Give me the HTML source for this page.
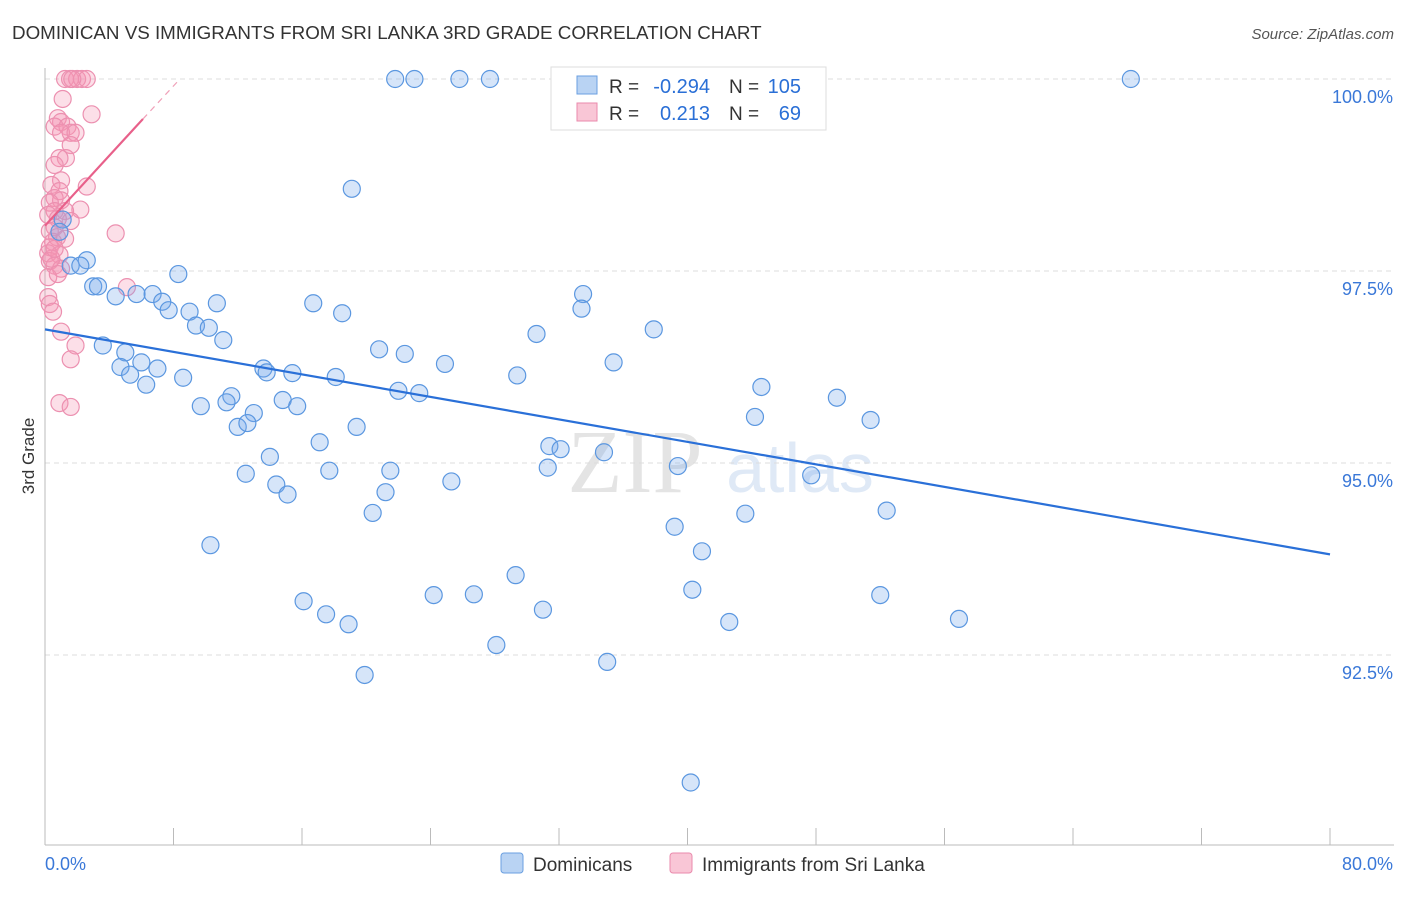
<!DOCTYPE html>
<html><head><meta charset="utf-8"><style>
body{margin:0;background:#fff;font-family:"Liberation Sans",sans-serif}
</style></head><body>
<svg id="chart" width="1406" height="892" xmlns="http://www.w3.org/2000/svg" font-family="Liberation Sans, sans-serif">
<text x="12" y="39" font-size="18.8" fill="#333">DOMINICAN VS IMMIGRANTS FROM SRI LANKA 3RD GRADE CORRELATION CHART</text>
<text x="1394" y="39" font-size="15" fill="#555" text-anchor="end" font-style="italic">Source: ZipAtlas.com</text>
<text x="34" y="456" font-size="17" fill="#333" text-anchor="middle" transform="rotate(-90 34 456)">3rd Grade</text>
<text x="635" y="492" font-size="90" fill="#e4e4e4" font-family="Liberation Serif, serif" text-anchor="middle">ZIP</text>
<text x="800" y="492" font-size="70" fill="#dfe9f6" text-anchor="middle">atlas</text>
<g id="grid"></g><g id="axes"></g><g id="pts"></g><g id="lines"></g>
<g>
<rect x="551" y="67" width="275" height="63" fill="#fff" stroke="#ddd"/>
<rect x="577" y="76" width="20" height="18" fill="#b9d3f3" stroke="#6a9fe0"/>
<rect x="577" y="103" width="20" height="18" fill="#f9c6d6" stroke="#ea8aac"/>
<text x="609" y="93" font-size="19" fill="#333">R =</text>
<text x="710" y="93" font-size="20" fill="#2a6fd6" text-anchor="end">-0.294</text>
<text x="729" y="93" font-size="19" fill="#333">N =</text>
<text x="801" y="93" font-size="20" fill="#2a6fd6" text-anchor="end">105</text>
<text x="609" y="120" font-size="19" fill="#333">R =</text>
<text x="710" y="120" font-size="20" fill="#2a6fd6" text-anchor="end">0.213</text>
<text x="729" y="120" font-size="19" fill="#333">N =</text>
<text x="801" y="120" font-size="20" fill="#2a6fd6" text-anchor="end">69</text>
</g>
<g>
<rect x="501" y="853" width="22" height="20" rx="3" fill="#b9d3f3" stroke="#6a9fe0"/>
<text x="533" y="871" font-size="19" fill="#333">Dominicans</text>
<rect x="670" y="853" width="22" height="20" rx="3" fill="#f9c6d6" stroke="#ea8aac"/>
<text x="702" y="871" font-size="19" fill="#333">Immigrants from Sri Lanka</text>
</g>
</svg>
<script>
const yTicks=[100,97.5,95,92.5];
const yTickLabels=["100.0%","97.5%","95.0%","92.5%"];
const blueX=[21.8,23,25.8,27.7,32.5,45.3,67.6,19.1,1.1,0.9,2.6,1.6,2.2,8.3,3,3.3,4.4,5.7,6.7,7.3,7.7,10.7,16.7,9,18.5,9.4,10.2,11.1,33.5,33.4,30.6,37.9,3.6,5,4.7,6,7,5.3,6.3,8.6,13.6,13.8,15.4,18.1,20.8,22.4,24.9,35.4,29.4,22,23.3,44.6,49.3,11.6,9.7,11.3,14.8,15.7,44.2,51.4,13,12,12.6,19.4,17.1,14,31.4,32.1,34.8,39.4,31.3,17.7,21.5,47.7,12.5,14.4,15.1,21.2,25.3,20.4,43.6,52.4,39.2,10.3,40.9,29.3,16.1,24.2,26.7,40.3,17.5,18.9,31,42.6,52,56.9,28.1,35,19.9,40.2];
const blueY=[100,100,100,100,100,100,100,98.57,98.17,98.01,97.64,97.57,97.57,97.46,97.3,97.3,97.17,97.2,97.2,97.1,96.99,97.08,97.08,96.97,96.95,96.79,96.76,96.6,97.2,97.01,96.68,96.74,96.53,96.44,96.25,96.31,96.23,96.15,96.02,96.11,96.23,96.18,96.17,96.12,96.48,96.42,96.29,96.31,96.14,95.94,95.91,95.99,95.85,95.87,95.74,95.79,95.82,95.74,95.6,95.56,95.65,95.47,95.52,95.47,95.27,95.08,95.22,95.18,95.14,94.96,94.94,94.9,94.9,94.84,94.86,94.72,94.59,94.62,94.76,94.35,94.34,94.38,94.17,93.93,93.85,93.54,93.2,93.28,93.29,93.35,93.03,92.9,93.09,92.93,93.28,92.97,92.63,92.41,92.24,90.84];
const pinkX=[1.25,1.56,2,2.3,2.6,1.7,1.1,2.9,0.8,1,0.6,1.4,1.6,1,1.9,1.6,1.3,0.9,0.6,1,2.6,0.4,0.9,0.6,1,0.3,2.2,0.6,1.25,0.2,1.6,0.8,0.6,0.3,4.4,0.75,0.5,0.3,0.2,0.9,0.3,0.6,1,0.2,0.8,5.1,0.2,0.3,0.5,1,1.9,1.6,0.9,1.6,0.4,1.25,0.6];
const pinkY=[100,100,100,100,100,100,99.74,99.54,99.49,99.44,99.38,99.38,99.3,99.3,99.3,99.14,98.97,98.97,98.88,98.68,98.6,98.62,98.54,98.45,98.42,98.39,98.3,98.28,98.28,98.23,98.15,98.18,98.07,98.02,97.99,97.94,97.88,97.81,97.73,97.71,97.63,97.57,97.53,97.42,97.46,97.29,97.16,97.07,96.97,96.71,96.53,96.35,95.78,95.73,97.66,97.92,97.79];
const blueTrend=[[0,96.74],[80,93.81]];
const pinkTrend=[[0,98.09],[6.1,99.48]];
const pinkDash=[[6.1,99.48],[8.4,100]];
const X=v=>45+v/80*1285, Y=v=>79+(100-v)/2.5*192;
const ns="http://www.w3.org/2000/svg";
function mk(tag,attrs,parent){const e=document.createElementNS(ns,tag);for(const k in attrs)e.setAttribute(k,attrs[k]);document.getElementById(parent).appendChild(e);return e;}
yTicks.forEach((t,i)=>{
 const l=mk('line',{x1:45,x2:1394,y1:Y(t),y2:Y(t),stroke:'#ddd','stroke-dasharray':'5,4'},'grid');
 
 
 const tx=mk('text',{x:1393,y:Y(t)+24,'font-size':18,fill:'#3a78d8','text-anchor':'end'},'axes');
 tx.textContent=yTickLabels[i];
 
 
});
const ax=mk('line',{x1:45,x2:45,y1:68,y2:845,stroke:'#bbb'},'axes');


const bx=mk('line',{x1:45,x2:1394,y1:845,y2:845,stroke:'#bbb'},'axes');


for(let i=0;i<=10;i++){const t=mk('line',{x1:X(i*8),x2:X(i*8),y1:828,y2:845,stroke:'#bbb'},'axes');
 
 }
[["0.0%",45,'start'],["80.0%",1393,'end']].forEach(a=>{const t=mk('text',{x:a[1],y:870,'font-size':18,fill:'#3a78d8','text-anchor':a[2]},'axes');t.textContent=a[0];
 
 });
pinkX.forEach((v,i)=>{const c=mk('circle',{cx:X(v),cy:Y(pinkY[i]),r:8.5,fill:'rgba(244,150,180,0.3)',stroke:'#ec90b0','stroke-width':1.2},'pts');
 
 });
blueX.forEach((v,i)=>{const c=mk('circle',{cx:X(v),cy:Y(blueY[i]),r:8.5,fill:'rgba(120,170,235,0.3)',stroke:'#5b97e0','stroke-width':1.2},'pts');
 
 });
const bl=mk('line',{x1:X(blueTrend[0][0]),y1:Y(blueTrend[0][1]),x2:X(blueTrend[1][0]),y2:Y(blueTrend[1][1]),stroke:'#2a70d8','stroke-width':2.2},'lines');


const pl=mk('line',{x1:X(pinkTrend[0][0]),y1:Y(pinkTrend[0][1]),x2:X(pinkTrend[1][0]),y2:Y(pinkTrend[1][1]),stroke:'#e8608a','stroke-width':2.2},'lines');


const pd=mk('line',{x1:X(pinkDash[0][0]),y1:Y(pinkDash[0][1]),x2:X(pinkDash[1][0]),y2:Y(pinkDash[1][1]),stroke:'#f0a0b8','stroke-width':1.2,'stroke-dasharray':'6,5'},'lines');


</script>
</body></html>
